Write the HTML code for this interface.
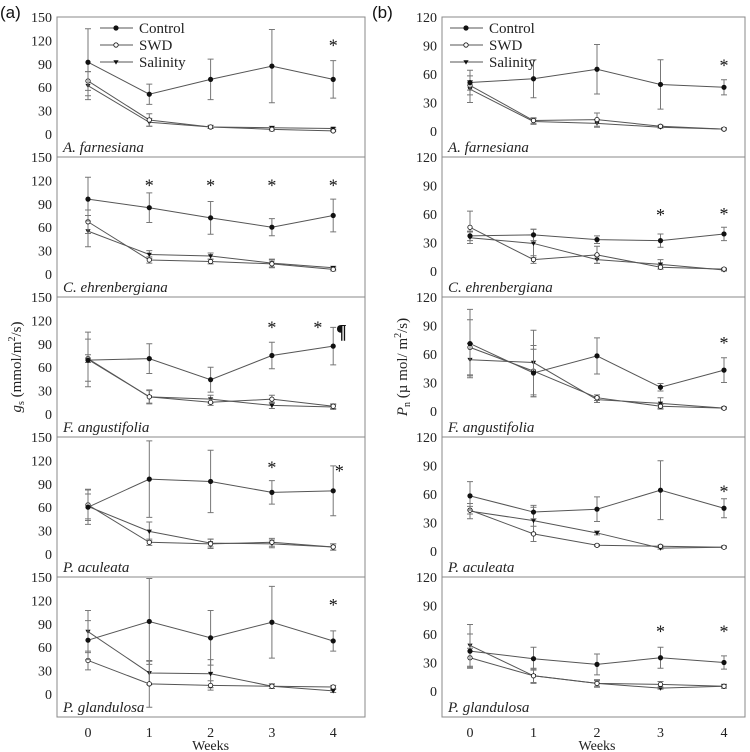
<!DOCTYPE html>
<html><head><meta charset="utf-8"><style>
body{margin:0;background:#fff}
svg{display:block}
svg text{font-family:"Liberation Serif","DejaVu Serif",serif}
</style></head><body>
<svg id="fig" width="750" height="752"></svg>
<script>
const weeks=[0,1,2,3,4];
const species=["A. farnesiana","C. ehrenbergiana","F. angustifolia","P. aculeata","P. glandulosa"];
const gsTicks=[0,30,60,90,120,150];
const pnTicks=[0,30,60,90,120];
// gs (left)
const gsControl=[[92,51,70,87,70],[96,85,72,60,75],[69,71,44,75,87],[60,96,93,79,81],[69,93,72,92,68]];
const gsControlErr=[[43,13,26,47,24],[28,19,21,11,21],[27,19,16,17,24],[22,49,40,15,32],[25,55,35,46,13]];
const gsSWD=[[68,18,9,6,4],[67,18,16,13,6],[71,22,15,19,10],[63,15,13,15,9],[43,13,11,10,9]];
const gsSWDErr=[[12,8,2,2,1],[15,4,3,5,2],[5,8,4,5,3],[20,4,6,5,4],[12,30,6,3,2]];
const gsSal=[[62,15,9,8,7],[55,25,23,14,8],[70,22,19,11,9],[61,29,14,13,9],[80,27,26,10,4]];
const gsSalErr=[[18,5,2,2,1],[20,5,4,5,2],[35,9,5,4,3],[16,12,5,5,4],[27,15,18,3,2]];
const gsStars=[[[4,117]],[[1,117],[2,117],[3,117],[4,117]],[[3,115],[3.75,115]],[[3,115],[4.1,110]],[[4,118]]];
// Pn (right)
const pnControl=[[51,55,65,49,46],[37,38,33,32,39],[71,40,58,25,43],[58,41,44,64,45],[42,34,28,35,30]];
const pnControlErr=[[13,20,26,26,8],[5,6,4,7,7],[36,25,19,4,13],[15,7,13,31,10],[18,12,11,11,7]];
const pnSWD=[[48,11,12,5,2],[46,12,17,4,2],[67,42,14,5,3],[43,18,6,5,4],[35,16,8,7,5]];
const pnSWDErr=[[5,3,7,1,1],[17,4,9,2,1],[29,27,3,2,1],[4,8,1,1,1],[10,7,3,3,2]];
const pnSal=[[44,10,8,4,2],[35,29,12,7,1],[54,51,12,8,3],[42,32,19,3,4],[48,16,8,3,5]];
const pnSalErr=[[14,3,4,1,1],[6,15,4,5,1],[17,34,3,6,1],[8,14,2,1,1],[22,8,4,1,2]];
const pnStars=[[[4,72]],[[3,62],[4,63]],[[4,75]],[[4,66]],[[3,66],[4,66]]];

const NS="http://www.w3.org/2000/svg";
const svg=document.getElementById('fig');
function el(tag,attrs,parent,txt){const e=document.createElementNS(NS,tag);for(const k in attrs)e.setAttribute(k,attrs[k]);if(tag==='text'&&!attrs.sans)e.style.fontFamily='"Liberation Serif","DejaVu Serif",serif';if(txt!==undefined)e.textContent=txt;(parent||svg).appendChild(e);return e;}
const PT=17,PH=140;

function column(cfg){
  const g=el('g',{});
  
  
  const xs=w=>cfg.x0+w*cfg.dx;
  for(let p=0;p<5;p++){
    const top=PT+p*PH;
    const ys=v=>top+(cfg.ymax-v)*cfg.k;
    const pg=el('g',{},g);
    
    
    const r=el('rect',{x:cfg.left,y:top,width:cfg.right-cfg.left,height:PH,fill:'none',stroke:'#888','stroke-width':1},pg);
    
    
    cfg.ticks.forEach(t=>{
      const tl=el('text',{x:cfg.left-5,y:ys(t)+5,'text-anchor':'end','font-size':14,fill:'#222'},pg,t);
      
      
    });
    const sp=el('text',{x:cfg.left+6,y:top+135,'font-size':15,'font-style':'italic',fill:'#222'},pg,species[p]);
    
    
    const series=[[cfg.sal[p],cfg.salE[p],'tri'],[cfg.swd[p],cfg.swdE[p],'open'],[cfg.ctl[p],cfg.ctlE[p],'filled']];
    series.forEach(([vals,errs,type])=>{
      const sg=el('g',{},pg);
      
      
      vals.forEach((v,i)=>{
        const x=xs(weeks[i]);
        const e=el('path',{d:`M${x},${ys(v-errs[i])}V${ys(v+errs[i])}M${x-3},${ys(v-errs[i])}h6M${x-3},${ys(v+errs[i])}h6`,stroke:'#777','stroke-width':1,fill:'none'},sg);
        
        
      });
      const l=el('polyline',{points:vals.map((v,i)=>xs(weeks[i])+','+ys(v)).join(' '),fill:'none',stroke:'#555','stroke-width':1},sg);
      
      
      vals.forEach((v,i)=>{
        const x=xs(weeks[i]),y=ys(v);let m;
        if(type==='tri')m=el('path',{d:`M${x-2.6},${y-1.8}h5.2l-2.6,4.4z`,fill:'#111'},sg);
        else m=el('circle',{cx:x,cy:y,r:2.2,fill:type==='open'?'#fff':'#111',stroke:'#111','stroke-width':0.8},sg);
        
        
      });
    });
    cfg.stars[p].forEach(([w,v])=>{
      const s=el('text',{x:xs(w),y:ys(v)+9,'text-anchor':'middle','font-size':18,fill:'#111'},pg,'*');
      
      
    });
  }
  weeks.forEach(w=>{
    const t=el('text',{x:xs(w),y:737,'text-anchor':'middle','font-size':14,fill:'#222'},g,w);
    
    
  });
  const xl=el('text',{x:(cfg.x0+xs(4))/2,y:750,'text-anchor':'middle','font-size':14,fill:'#222'},g,'Weeks');
  
  
  const lg=el('g',{},g);
  
  
  [['Control','filled',28],['SWD','open',45],['Salinity','tri',62]].forEach(([n,t,y])=>{
    const le=el('g',{},lg);
    
    
    const lx=cfg.legX;
    el('line',{x1:lx,y1:y,x2:lx+33,y2:y,stroke:'#555'},le);
    const c=lx+16;
    if(t==='tri')el('path',{d:`M${c-2.6},${y-1.8}h5.2l-2.6,4.4z`,fill:'#111'},le);
    else el('circle',{cx:c,cy:y,r:2.2,fill:t==='open'?'#fff':'#111',stroke:'#111','stroke-width':0.8},le);
    el('text',{x:lx+39,y:y+5,'font-size':15,fill:'#222'},le,n);
  });
  const pl=el('text',{x:cfg.letX,y:18,'font-size':17,fill:'#111',sans:1},g,cfg.letter);
  pl.style.fontFamily='"Liberation Sans",sans-serif';
  
  
}
column({name:'gs-column',left:57,right:365,x0:88,dx:61.3,ymax:150,k:0.78,ticks:gsTicks,
  ctl:gsControl,ctlE:gsControlErr,swd:gsSWD,swdE:gsSWDErr,sal:gsSal,salE:gsSalErr,stars:gsStars,legX:100,letX:0,letter:'(a)'});
column({name:'pn-column',left:442,right:745,x0:470,dx:63.5,ymax:120,k:0.95,ticks:pnTicks,
  ctl:pnControl,ctlE:pnControlErr,swd:pnSWD,swdE:pnSWDErr,sal:pnSal,salE:pnSalErr,stars:pnStars,legX:450,letX:372,letter:'(b)'});
const pc=el('text',{x:336,y:338,'font-size':20,'font-weight':'bold',fill:'#111'},svg,'¶');


const yl=el('text',{transform:'translate(21,367) rotate(-90)','text-anchor':'middle','font-size':15,fill:'#222'});


yl.innerHTML='<tspan font-style="italic">g</tspan><tspan font-size="10" dy="3">s</tspan><tspan dy="-3"> (mmol/m</tspan><tspan font-size="10" dy="-6">2</tspan><tspan dy="6">/s)</tspan>';
const yr=el('text',{transform:'translate(407,367) rotate(-90)','text-anchor':'middle','font-size':15,fill:'#222'});


yr.innerHTML='<tspan font-style="italic">P</tspan><tspan font-size="10" dy="3">n</tspan><tspan dy="-3"> (µ mol/ m</tspan><tspan font-size="10" dy="-6">2</tspan><tspan dy="6">/s)</tspan>';
</script>
</body></html>
